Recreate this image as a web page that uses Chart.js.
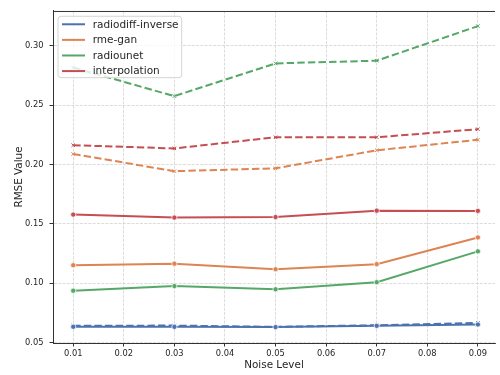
<!DOCTYPE html>
<html>
<head>
<meta charset="utf-8">
<script src="https://cdn.jsdelivr.net/npm/chart.js@4.4.1/dist/chart.umd.min.js"></script>
<style>
  html, body { margin: 0; padding: 0; background: #fff; overflow: hidden; }
  #wrap { width: 500px; height: 375px; }
</style>
</head>
<body>
<div id="wrap"><canvas id="chart" width="500" height="375"></canvas></div>
<script>
// noise levels on the x axis
const noiseLevels = [0.01, 0.03, 0.05, 0.07, 0.09];
const xTicks = [0.01, 0.02, 0.03, 0.04, 0.05, 0.06, 0.07, 0.08, 0.09];
const yTicks = [0.05, 0.10, 0.15, 0.20, 0.25, 0.30];

const methodNames = ['radiodiff-inverse', 'rme-gan', 'radiounet', 'interpolation'];
const methodColors = ['#4c72b0', '#dd8452', '#55a868', '#c44e52'];

// solid lines, circle markers
const radiodiffSolid = [0.0632, 0.0631, 0.0629, 0.0640, 0.0651];
const rmeGanSolid = [0.1151, 0.1164, 0.1117, 0.1160, 0.1385];
const radiounetSolid = [0.0936, 0.0975, 0.0948, 0.1008, 0.1268];
const interpolationSolid = [0.1578, 0.1553, 0.1557, 0.1611, 0.1609];

// dashed lines, x markers
const radiodiffDashed = [0.0640, 0.0642, 0.0631, 0.0645, 0.0664];
const rmeGanDashed = [0.2089, 0.1944, 0.1968, 0.2120, 0.2209];
const radiounetDashed = [0.2818, 0.2577, 0.2853, 0.2876, 0.3167];
const interpolationDashed = [0.2163, 0.2136, 0.2230, 0.2230, 0.2298];

const solidSeries = [radiodiffSolid, rmeGanSolid, radiounetSolid, interpolationSolid];
const dashedSeries = [radiodiffDashed, rmeGanDashed, radiounetDashed, interpolationDashed];

const FONT = '"DejaVu Sans", sans-serif';
const TEXT = '#262626';

function toPoints(values) {
    return values.map((v, i) => ({ x: noiseLevels[i], y: v }));
}

const datasets = [];
solidSeries.forEach((vals, i) => {
    datasets.push({
        label: methodNames[i],
        data: toPoints(vals),
        borderColor: methodColors[i],
        backgroundColor: methodColors[i],
        borderWidth: 2,
        pointRadius: 2.6,
        pointBorderColor: '#ffffff',
        pointBorderWidth: 0.75,
        pointBackgroundColor: methodColors[i],
        tension: 0
    });
});
dashedSeries.forEach((vals, i) => {
    datasets.push({
        label: methodNames[i] + ' (dashed)',
        data: toPoints(vals),
        borderColor: methodColors[i],
        backgroundColor: methodColors[i],
        borderWidth: 2,
        borderDash: [7.4, 3.2],
        pointStyle: 'crossRot',
        pointRadius: 2.5,
        pointBorderColor: methodColors[i],
        pointBorderWidth: 1,
        tension: 0
    });
});

// top spine (matplotlib keeps it, chart.js has no border there)
const topSpine = {
    id: 'topSpine',
    afterDatasetsDraw(chart) {
        const { ctx, chartArea } = chart;
        ctx.save();
        ctx.strokeStyle = '#333333';
        ctx.lineWidth = 1;
        ctx.beginPath();
        ctx.moveTo(chartArea.left, chartArea.top + 0.5);
        ctx.lineTo(chartArea.right, chartArea.top + 0.5);
        ctx.stroke();
        ctx.restore();
    }
};

// legend box inside the axes, upper left
const innerLegend = {
    id: 'innerLegend',
    afterDraw(chart) {
        const { ctx, chartArea } = chart;
        const x0 = chartArea.left + 5, y0 = chartArea.top + 5.3;
        const w = 123.7, h = 61.4, r = 3;
        ctx.save();
        ctx.beginPath();
        ctx.roundRect(x0, y0, w, h, r);
        ctx.fillStyle = 'rgba(255,255,255,0.8)';
        ctx.fill();
        ctx.strokeStyle = '#d4d4d4';
        ctx.lineWidth = 1;
        ctx.stroke();
        ctx.font = '10.5px ' + FONT;
        ctx.textBaseline = 'middle';
        ctx.fillStyle = TEXT;
        methodNames.forEach((name, i) => {
            const y = y0 + 8 + i * 15.6;
            ctx.strokeStyle = methodColors[i];
            ctx.lineWidth = 2;
            ctx.beginPath();
            ctx.moveTo(x0 + 4, y);
            ctx.lineTo(x0 + 27, y);
            ctx.stroke();
            ctx.fillText(name, x0 + 34.7, y + 0.5);
        });
        ctx.restore();
    }
};

new Chart(document.getElementById('chart'), {
    type: 'line',
    data: { datasets: datasets },
    plugins: [topSpine, innerLegend],
    options: {
        responsive: false,
        animation: false,
        layout: { padding: { top: 9, right: 0, left: 0, bottom: 0 } },
        plugins: {
            legend: { display: false },
            tooltip: { enabled: false }
        },
        scales: {
            x: {
                type: 'linear',
                min: 0.006,
                max: 0.09338,
                afterBuildTicks: (scale) => { scale.ticks = xTicks.map(v => ({ value: v })); },
                afterFit: (scale) => { scale.height = 32; },
                ticks: {
                    callback: (v) => v.toFixed(2),
                    font: { family: FONT, size: 8.3 },
                    color: TEXT,
                    padding: 2,
                    maxRotation: 0,
                    autoSkip: false
                },
                grid: {
                    color: '#d3d3d3',
                    lineWidth: 0.8,
                    tickLength: 3.5,
                    tickColor: '#333333',
                    tickWidth: 1
                },
                border: { display: true, color: '#333333', width: 1, dash: [3, 1.3] },
                title: {
                    display: true,
                    text: 'Noise Level',
                    font: { family: FONT, size: 10.4 },
                    color: TEXT,
                    padding: { top: 0, bottom: 3.9 }
                }
            },
            y: {
                type: 'linear',
                min: 0.0495,
                max: 0.3295,
                afterBuildTicks: (scale) => { scale.ticks = yTicks.map(v => ({ value: v })); },
                afterFit: (scale) => { scale.width = 53; },
                ticks: {
                    callback: (v) => v.toFixed(2),
                    font: { family: FONT, size: 8.3 },
                    color: TEXT,
                    padding: 6
                },
                grid: {
                    color: '#d3d3d3',
                    lineWidth: 0.8,
                    tickLength: 3.5,
                    tickColor: '#333333',
                    tickWidth: 1
                },
                border: { display: true, color: '#333333', width: 1, dash: [3, 1.3] },
                title: {
                    display: true,
                    text: 'RMSE Value',
                    font: { family: FONT, size: 10.4 },
                    color: TEXT,
                    padding: { top: 13.5, bottom: 0 }
                }
            }
        }
    }
});
</script>
</body>
</html>
